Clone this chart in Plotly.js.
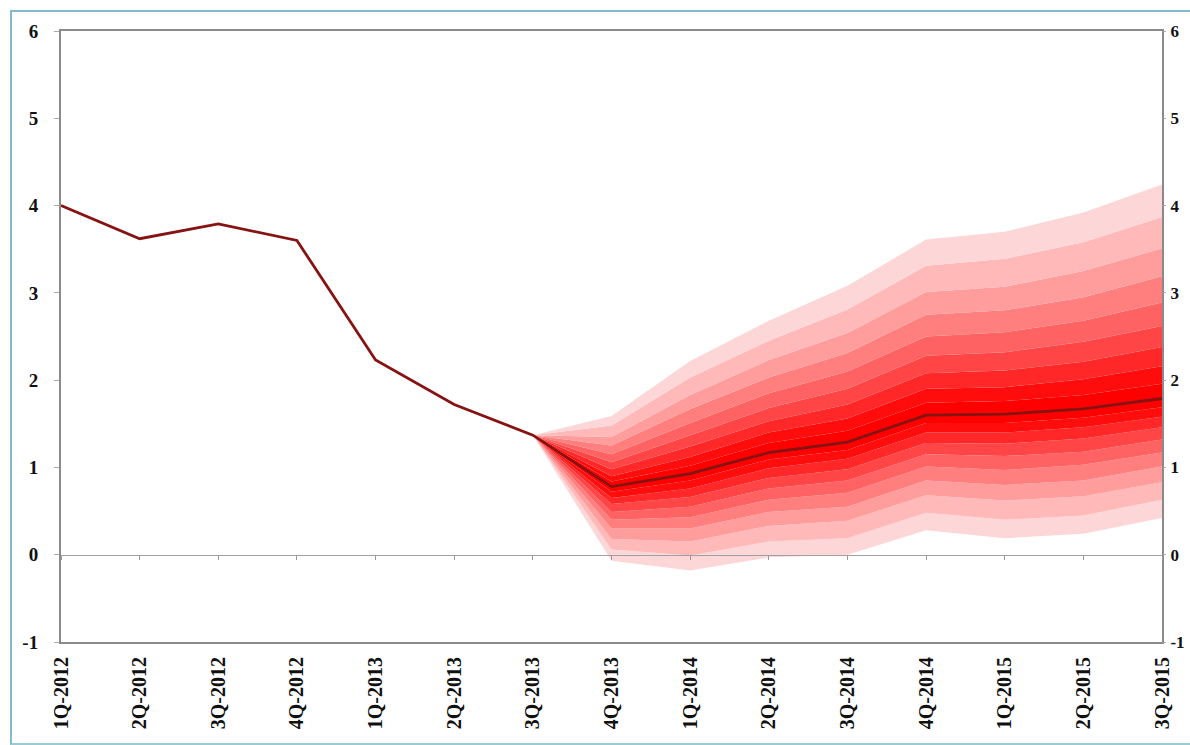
<!DOCTYPE html>
<html>
<head>
<meta charset="utf-8">
<script src="https://cdn.plot.ly/plotly-3.0.1.min.js"></script>
<style>
  html, body { margin:0; padding:0; background:#ffffff; }
  #chart { position:absolute; left:0; top:0; width:1190px; height:745px; }
  #frame { position:absolute; left:10px; top:10px; width:1190px; height:731px;
           border-left:2px solid #86b9cc; border-top:2px solid #86b9cc; border-bottom:2px solid #9cc9d8;
           pointer-events:none; }
</style>
</head>
<body>
<div id="chart"></div>
<div id="frame"></div>
<script>
// Quarter categories
const quarters = ["1Q-2012","2Q-2012","3Q-2012","4Q-2012","1Q-2013","2Q-2013","3Q-2013",
                  "4Q-2013","1Q-2014","2Q-2014","3Q-2014","4Q-2014","1Q-2015","2Q-2015","3Q-2015"];
// Actual / central projection line
const centralLine = [4.00, 3.62, 3.79, 3.60, 2.23, 1.72, 1.37, 0.78, 0.93, 1.17, 1.29, 1.60, 1.61, 1.67, 1.79];

// Fan chart quarters (forecast horizon)
const fanQuarters = ["3Q-2013","4Q-2013","1Q-2014","2Q-2014","3Q-2014","4Q-2014","1Q-2015","2Q-2015","3Q-2015"];
const fanCenter = [1.37, 0.78, 0.93, 1.17, 1.29, 1.60, 1.61, 1.67, 1.79];

// Lower band boundaries (innermost to outermost)
const lower1 = [1.37, 0.72, 0.85, 1.09, 1.20, 1.51, 1.51, 1.57, 1.69];
const lower2 = [1.37, 0.65, 0.76, 0.99, 1.10, 1.40, 1.40, 1.46, 1.58];
const lower3 = [1.37, 0.58, 0.66, 0.88, 0.98, 1.28, 1.27, 1.33, 1.46];
const lower4 = [1.37, 0.49, 0.55, 0.76, 0.85, 1.15, 1.13, 1.18, 1.32];
const lower5 = [1.37, 0.40, 0.43, 0.63, 0.71, 1.01, 0.97, 1.03, 1.17];
const lower6 = [1.37, 0.30, 0.30, 0.49, 0.55, 0.85, 0.80, 0.85, 1.01];
const lower7 = [1.37, 0.18, 0.15, 0.33, 0.39, 0.68, 0.62, 0.67, 0.83];
const lower8 = [1.37, 0.06, -0.01, 0.15, 0.19, 0.48, 0.40, 0.45, 0.63];
const lower9 = [1.37, -0.07, -0.18, -0.03, 0.00, 0.28, 0.19, 0.24, 0.42];

// Upper band boundaries (innermost to outermost)
const upper1 = [1.37, 0.84, 1.02, 1.28, 1.42, 1.74, 1.76, 1.83, 1.96];
const upper2 = [1.37, 0.90, 1.12, 1.40, 1.56, 1.90, 1.92, 2.01, 2.16];
const upper3 = [1.37, 0.98, 1.24, 1.53, 1.72, 2.08, 2.11, 2.21, 2.38];
const upper4 = [1.37, 1.06, 1.37, 1.68, 1.90, 2.28, 2.32, 2.44, 2.62];
const upper5 = [1.37, 1.15, 1.51, 1.85, 2.10, 2.50, 2.55, 2.68, 2.89];
const upper6 = [1.37, 1.25, 1.67, 2.03, 2.31, 2.75, 2.80, 2.95, 3.19];
const upper7 = [1.37, 1.35, 1.83, 2.23, 2.54, 3.01, 3.07, 3.25, 3.51];
const upper8 = [1.37, 1.48, 2.03, 2.45, 2.81, 3.31, 3.39, 3.58, 3.87];
const upper9 = [1.37, 1.59, 2.22, 2.68, 3.08, 3.61, 3.70, 3.92, 4.24];

const yTicks = [-1, 0, 1, 2, 3, 4, 5, 6];

// Band shades, innermost (darkest) to outermost (lightest)
const shades = ["#ff0000","#ff0c0c","#ff2727","#ff4545","#ff6262","#ff7f7f","#ff9c9c","#ffb9b9","#fdd7d7"];

const lowers = [lower1, lower2, lower3, lower4, lower5, lower6, lower7, lower8, lower9];
const uppers = [upper1, upper2, upper3, upper4, upper5, upper6, upper7, upper8, upper9];

const traces = [];
function band(yv, fill, color) {
  return { x: fanQuarters, y: yv, type: "scatter", mode: "lines",
           line: { width: 0, color: color || "rgba(0,0,0,0)" },
           fill: fill, fillcolor: color, hoverinfo: "skip", showlegend: false };
}
traces.push(band(lowers[8], "none", "rgba(0,0,0,0)"));
for (let k = 7; k >= 0; k--) traces.push(band(lowers[k], "tonexty", shades[k + 1]));
traces.push(band(fanCenter, "tonexty", shades[0]));
for (let k = 0; k < 9; k++) traces.push(band(uppers[k], "tonexty", shades[k]));

// central line
traces.push({ x: quarters, y: centralLine, type: "scatter", mode: "lines",
              line: { color: "#861212", width: 2.8 }, showlegend: false });
// helper traces for secondary axes
traces.push({ x: quarters, y: centralLine, xaxis: "x2", yaxis: "y", type: "scatter", mode: "lines",
              line: { width: 0 }, opacity: 0, hoverinfo: "skip", showlegend: false });
traces.push({ x: quarters, y: centralLine, yaxis: "y2", type: "scatter", mode: "lines",
              line: { width: 0 }, opacity: 0, hoverinfo: "skip", showlegend: false });

const tickFont = { family: "Liberation Serif, Times New Roman, serif", size: 19, color: "#111", weight: "bold" };
const rightFont = { family: "Liberation Serif, Times New Roman, serif", size: 17, color: "#111", weight: "bold" };
const xFont = { family: "Liberation Serif, Times New Roman, serif", size: 20, color: "#111", weight: "bold" };

const layout = {
  width: 1190, height: 745,
  margin: { l: 61, r: 28, t: 31, b: 103, pad: 0 },
  paper_bgcolor: "#ffffff", plot_bgcolor: "#ffffff",
  showlegend: false,
  font: tickFont,
  xaxis: {
    type: "category", categoryorder: "array", categoryarray: quarters,
    range: [0, 14], tickangle: -90, tickfont: xFont,
    ticks: "", showgrid: false, zeroline: false,
    showline: true, mirror: true, linecolor: "#8a8a8a", linewidth: 2,
    ticklabelstandoff: 5
  },
  xaxis2: {
    type: "category", categoryorder: "array", categoryarray: quarters,
    range: [0, 14], overlaying: "x", anchor: "free", position: 1/7,
    showticklabels: false, ticks: "outside", ticklen: 4, tickwidth: 1, tickcolor: "#999",
    showline: true, linecolor: "#a0a0a0", linewidth: 1.5, showgrid: false, zeroline: false
  },
  yaxis: {
    range: [-1, 6], tickvals: yTicks, ticktext: yTicks.map(String),
    tickfont: tickFont, ticks: "outside", ticklen: 5, tickcolor: "#aaa",
    showgrid: false, zeroline: false,
    showline: true, mirror: true, linecolor: "#8a8a8a", linewidth: 2,
    ticklabelstandoff: 12
  },
  yaxis2: {
    range: [-1, 6], tickvals: yTicks, ticktext: yTicks.map(String),
    overlaying: "y", side: "right", tickfont: rightFont,
    ticks: "outside", ticklen: 3, tickcolor: "#aaa",
    showgrid: false, zeroline: false, showline: false,
    ticklabelstandoff: 1
  }
};

Plotly.newPlot("chart", traces, layout, { displayModeBar: false, staticPlot: true });
</script>
</body>
</html>
